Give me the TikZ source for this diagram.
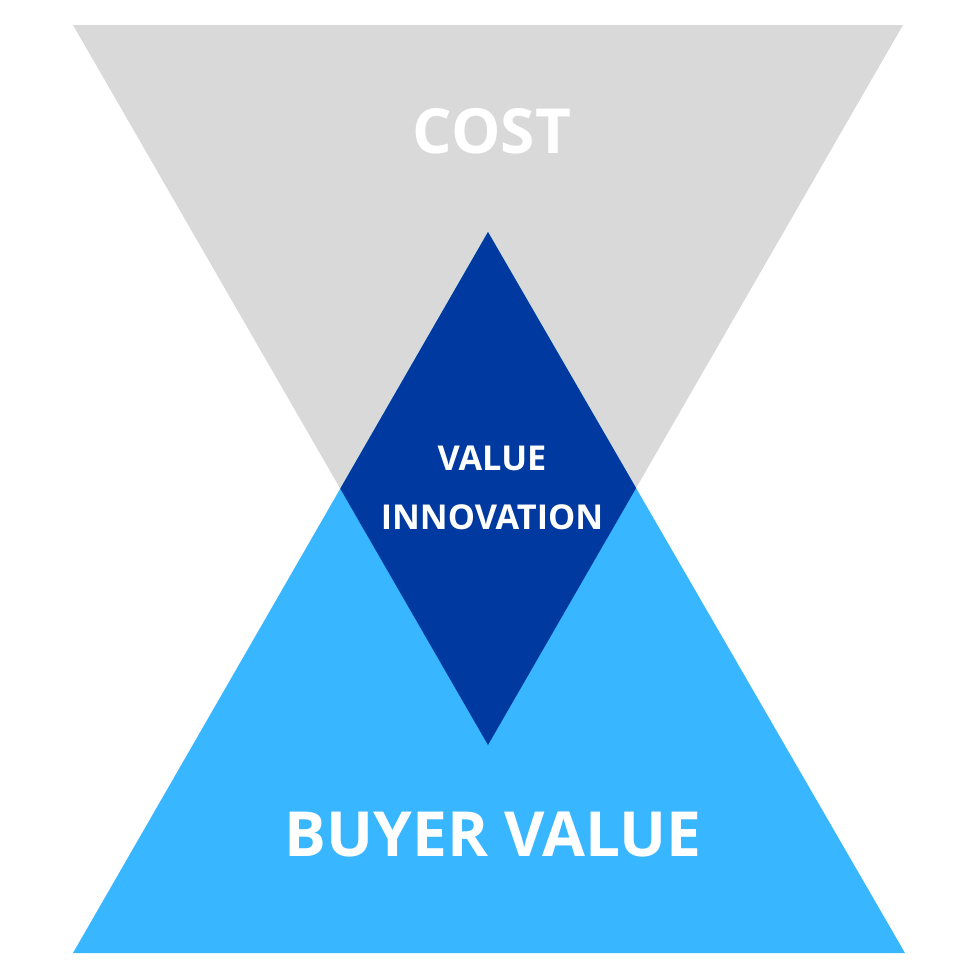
\documentclass[tikz,border=0pt]{standalone}
\usepackage{fontspec}
\setmainfont{Open Sans}
\definecolor{costgray}{RGB}{217,217,217}
\definecolor{buyerblue}{RGB}{56,182,255}
\definecolor{innoblue}{RGB}{0,57,160}
\tikzset{
  bigword/.style={text=white,font=\fontsize{17.7pt}{20pt}\selectfont\bfseries},
  smallword/.style={text=white,font=\fontsize{9.75pt}{17pt}\selectfont\bfseries,align=center}
}
\begin{document}
\begin{tikzpicture}[x=0.1mm,y=-0.1mm]
	\useasboundingbox (0,0) rectangle (980,980);
	
	% cost triangle
	\fill[costgray] (73,25) -- (903,25) -- (488,745) -- cycle;
	
	% buyer value triangle
	\fill[buyerblue] (73,953) -- (905,953) -- (488,232) -- cycle;
	
	% overlap
	\begin{scope}
		\clip (73,25) -- (903,25) -- (488,745) -- cycle;
		\fill[innoblue] (73,953) -- (905,953) -- (488,232) -- cycle;
	\end{scope}
	
	\node[bigword] (cost) at (492,131) {COST};
	\node[smallword] (innovation) at (492,488) {VALUE\\INNOVATION};
	\node[bigword] (buyer) at (493,834) {BUYER VALUE};
\end{tikzpicture}
\end{document}
